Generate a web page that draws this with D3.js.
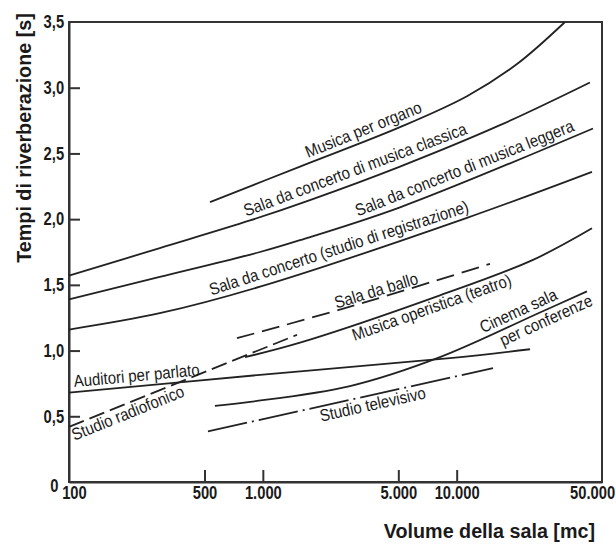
<!DOCTYPE html>
<html>
<head>
<meta charset="utf-8">
<script src="https://cdn.jsdelivr.net/npm/d3@7"></script>
<style>
	body { margin: 0; background: #fff; }
	text { font-family: "Liberation Sans", Arial, sans-serif; fill: #1a1a1a; }
	.axis text { font-size: 18px; font-weight: bold; }
	.axis-label { font-size: 21px; font-weight: bold; }
	.curve-label { font-size: 17px; }
</style>
</head>
<body>
<div id="chart-area"></div>
<script>

// Tick values (volume in mc, time in s)
const xTicks = [100, 500, 1000, 5000, 10000, 50000];
const yTicks = [0, 0.5, 1, 1.5, 2, 2.5, 3, 3.5];

// Curves: [volume, reverberation time]
const organo = [[534, 2.13], [1555, 2.40], [5100, 2.70], [11300, 2.935], [20470, 3.18], [36200, 3.5]];
const classica = [[100, 1.57], [294, 1.78], [859, 1.99], [1750, 2.145], [5100, 2.40], [16720, 2.715], [48700, 3.04]];
const leggera = [[100, 1.39], [294, 1.56], [967, 1.75], [1555, 1.84], [5100, 2.09], [50500, 2.69]];
const registrazione = [[100, 1.16], [294, 1.284], [967, 1.486], [11300, 2.01], [49900, 2.36]];
const ballo = [[735, 1.094], [2817, 1.334], [14860, 1.66]];
const operistica = [[809, 0.95], [1555, 1.06], [8200, 1.42], [24760, 1.69], [49900, 1.93]];
const parlato = [[100, 0.68], [967, 0.815], [9230, 0.942], [23900, 1.01]];
const radiofonico = [[100, 0.42], [1500, 1.12]];
const cinema = [[566, 0.58], [859, 0.61], [2817, 0.73], [8200, 0.95], [26900, 1.29], [47000, 1.45]];
const televisivo = [[521, 0.385], [15400, 0.866]];

// Labels: text, volume where the text starts, side of the line
const labels = [
	{curve: "organo", text: "Musica per organo", start: 1750, side: "above"},
	{curve: "classica", text: "Sala da concerto di musica classica", start: 838, side: "above"},
	{curve: "leggera", text: "Sala da concerto di musica leggera", start: 3170, side: "above"},
	{curve: "registrazione", text: "Sala da concerto (studio di registrazione)", start: 553, side: "above"},
	{curve: "ballo", text: "Sala da ballo", start: 2413, side: "on"},
	{curve: "operistica", text: "Musica operistica (teatro)", start: 2800, side: "below"},
	{curve: "parlato", text: "Auditori per parlato", start: 107, side: "above"},
	{curve: "radiofonico", text: "Studio radiofonico", start: 100, side: "below"},
	{curve: "cinema", text: "Cinema sala", start: 14000, side: "above"},
	{curve: "cinema", text: "per conferenze", start: 16100, side: "below"},
	{curve: "televisivo", text: "Studio televisivo", start: 1925, side: "below"}
];

const curves = [
	{id: "organo", values: organo, dash: null},
	{id: "classica", values: classica, dash: null},
	{id: "leggera", values: leggera, dash: null},
	{id: "registrazione", values: registrazione, dash: null},
	{id: "ballo", values: ballo, dash: "18,8"},
	{id: "operistica", values: operistica, dash: null},
	{id: "parlato", values: parlato, dash: null},
	{id: "radiofonico", values: radiofonico, dash: "16,6"},
	{id: "cinema", values: cinema, dash: null},
	{id: "televisivo", values: televisivo, dash: "40,5,2,5"}
];

// condensed look: Liberation Sans squeezed horizontally
const squeezeTick = 0.82,
	squeezeLabel = 0.88,
	squeezeTitle = 0.94;

let margin = {top: 22, right: 14, bottom: 62, left: 69};
let width = 616 - margin.left - margin.right,
	height = 544 - margin.top - margin.bottom;

const it = d3.formatLocale({decimal: ",", thousands: ".", grouping: [3], currency: ["€", ""]});

let svg = d3.select("#chart-area")
	.append("svg")
	.attr("width", width + margin.left + margin.right)
	.attr("height", height + margin.top + margin.bottom)
	.append("g")
	.attr("transform", "translate(" + margin.left + "," + margin.top + ")");

let x = d3.scaleLog()
	.domain([100, 56200])
	.range([0, width]);

let y = d3.scaleLinear()
	.domain([0, 3.5])
	.range([height, 0]);

// Frame
svg.append("rect")
	.attr("width", width)
	.attr("height", height)
	.attr("fill", "none")
	.attr("stroke", "#333")
	.attr("stroke-width", 2);

// Axes
let xAxis = d3.axisBottom(x)
	.tickValues(xTicks)
	.tickFormat(it.format(",d"))
	.tickSizeInner(-12)
	.tickSizeOuter(0)
	.tickPadding(4);

let xAxisGroup = svg.append("g")
	.attr("class", "axis x-axis")
	.attr("transform", "translate(0," + height + ")")
	.call(xAxis);

xAxisGroup.selectAll(".tick").filter(d => d === 100 || d === 50000).select("line").remove();
xAxisGroup.selectAll(".tick").filter(d => d === 100).select("text").attr("dx", 6);

let yAxis = d3.axisLeft(y)
	.tickValues(yTicks)
	.tickFormat(d => d === 0 ? "0" : it.format(".1f")(d))
	.tickSizeInner(-11)
	.tickSizeOuter(0)
	.tickPadding(6);

let yAxisGroup = svg.append("g")
	.attr("class", "axis y-axis")
	.call(yAxis);

yAxisGroup.selectAll(".tick").filter(d => d === 0 || d === 3.5).select("line").remove();
yAxisGroup.selectAll(".tick").filter(d => d === 0).select("text").attr("dx", -7).attr("dy", "0.5em");

svg.selectAll(".axis .domain").attr("stroke", "#333").attr("stroke-width", 2);
svg.selectAll(".axis .tick line").attr("stroke", "#333").attr("stroke-width", 2);
svg.selectAll(".axis text").attr("fill", "#111").attr("transform", "scale(" + squeezeTick + ",1)");

// Curves
let line = d3.line()
	.x(d => x(d[0]))
	.y(d => y(d[1]))
	.curve(d3.curveCatmullRom.alpha(0.5));

let paths = {};
curves.forEach(c => {
	paths[c.id] = svg.append("path")
		.datum(c.values)
		.attr("d", line)
		.attr("fill", "none")
		.attr("stroke", "#222")
		.attr("stroke-width", 1.8)
		.attr("stroke-dasharray", c.dash)
		.node();
});

function lengthAtX(node, px) {
	let lo = 0, hi = node.getTotalLength();
	for (let i = 0; i < 30; i++) {
		let mid = (lo + hi) / 2;
		if (node.getPointAtLength(mid).x < px) lo = mid; else hi = mid;
	}
	return lo;
}

// Labels along the curves
labels.forEach(lab => {
	let node = paths[lab.curve];
	let offset = lab.side === "above" ? -5 : (lab.side === "below" ? 15 : -2);
	let t = svg.append("text")
		.attr("class", "curve-label")
		.attr("y", offset)
		.text(lab.text);
	let w = t.node().getComputedTextLength() * squeezeLabel;
	let total = node.getTotalLength();
	let l0 = lengthAtX(node, x(lab.start));
	let l1 = Math.min(l0 + w, total);
	let la = l1 - l0 < 30 ? Math.max(0, l1 - 30) : l0;
	let p0 = node.getPointAtLength(l0),
		pa = node.getPointAtLength(la),
		p1 = node.getPointAtLength(l1);
	let ang = Math.atan2(p1.y - pa.y, p1.x - pa.x) * 180 / Math.PI;
	t.attr("transform", "translate(" + p0.x + "," + p0.y + ") rotate(" + ang + ") scale(" + squeezeLabel + ",1)");
});

// Axis titles
svg.append("text")
	.attr("class", "axis-label")
	.attr("text-anchor", "end")
	.attr("transform", "translate(" + (595 - margin.left) + "," + (538 - margin.top) + ") scale(" + squeezeTitle + ",1)")
	.text("Volume della sala [mc]");

svg.append("text")
	.attr("class", "axis-label")
	.attr("text-anchor", "middle")
	.attr("transform", "translate(" + (31 - margin.left) + "," + (138 - margin.top) + ") rotate(-90) scale(" + squeezeTitle + ",1)")
	.text("Tempi di riverberazione [s]");

</script>
</body>
</html>
